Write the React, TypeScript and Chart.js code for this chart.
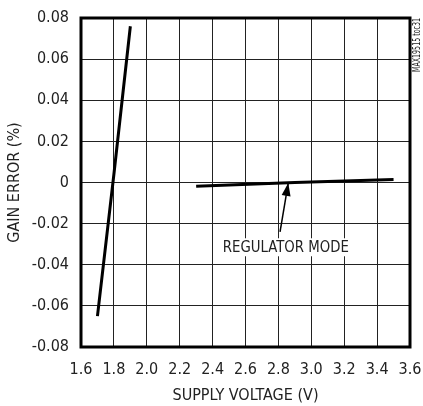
import React, { useEffect, useRef } from "react";
import { Chart, registerables } from "chart.js";

Chart.register(...registerables);

const xTicks = [1.6, 1.8, 2.0, 2.2, 2.4, 2.6, 2.8, 3.0, 3.2, 3.4, 3.6];
const yTicks = [-0.08, -0.06, -0.04, -0.02, 0, 0.02, 0.04, 0.06, 0.08];
const xTickLabels = ["1.6", "1.8", "2.0", "2.2", "2.4", "2.6", "2.8", "3.0", "3.2", "3.4", "3.6"];
const yTickLabels = ["-0.08", "-0.06", "-0.04", "-0.02", "0", "0.02", "0.04", "0.06", "0.08"];

const steepX = [1.7, 1.8, 1.9];
const steepY = [-0.065, 0.004, 0.076];
const regX = [2.3, 2.9, 3.5];
const regY = [-0.0018, 0.0, 0.0014];

const annoText = "REGULATOR MODE";
const annoTextPos = [2.845, -0.0315];
const arrowTail = [2.81, -0.024];
const arrowHead = [2.86, -0.0002];

const FONT = '"Liberation Sans Narrow", "Arial Narrow", "DejaVu Sans Condensed", sans-serif';

function narrowText(ctx: any, text: string, x: number, y: number, targetW: number) {
  const w = ctx.measureText(text).width;
  const s = Math.min(1, targetW / w);
  ctx.save();
  ctx.translate(x, y);
  ctx.scale(s, 1);
  ctx.fillText(text, 0, 0);
  ctx.restore();
}

const framePlugin = {
  id: "frame",
  afterDraw(chart: any) {
    const { ctx, chartArea: a, scales } = chart;
    ctx.save();
    const x = scales.x, y = scales.y;
    ctx.font = `16px ${FONT}`;
    const tx = x.getPixelForValue(annoTextPos[0]);
    const ty = y.getPixelForValue(annoTextPos[1]);
    const w = 126;
    ctx.fillStyle = "#fff";
    ctx.fillRect(tx - w / 2 - 3, ty - 9, w + 6, 18);
    ctx.fillStyle = "#222";
    ctx.textAlign = "center";
    ctx.textBaseline = "middle";
    narrowText(ctx, annoText, tx, ty + 1, w);
    const x1 = x.getPixelForValue(arrowTail[0]);
    const y1 = y.getPixelForValue(arrowTail[1]);
    const x2 = x.getPixelForValue(arrowHead[0]);
    const y2 = y.getPixelForValue(arrowHead[1]);
    ctx.strokeStyle = "#000";
    ctx.lineWidth = 1.5;
    ctx.beginPath();
    ctx.moveTo(x1, y1);
    ctx.lineTo(x2, y2);
    ctx.stroke();
    const ang = Math.atan2(y2 - y1, x2 - x1);
    const L = 13, W = 4.5;
    ctx.fillStyle = "#000";
    ctx.beginPath();
    ctx.moveTo(x2, y2);
    ctx.lineTo(x2 - L * Math.cos(ang) + W * Math.sin(ang), y2 - L * Math.sin(ang) - W * Math.cos(ang));
    ctx.lineTo(x2 - L * Math.cos(ang) - W * Math.sin(ang), y2 - L * Math.sin(ang) + W * Math.cos(ang));
    ctx.closePath();
    ctx.fill();
    ctx.lineWidth = 3;
    ctx.strokeStyle = "#000";
    ctx.strokeRect(a.left, a.top, a.right - a.left, a.bottom - a.top);
    ctx.translate(417, a.top);
    ctx.rotate(-Math.PI / 2);
    ctx.font = `10px ${FONT}`;
    ctx.fillStyle = "#222";
    ctx.textAlign = "right";
    ctx.textBaseline = "middle";
    const sw = ctx.measureText("MAX19515 toc31").width;
    const s = 54 / sw;
    ctx.scale(s, 1);
    ctx.fillText("MAX19515 toc31", 0, 0);
    ctx.restore();
  },
};

export default function App() {
  const ref = useRef<HTMLCanvasElement>(null);
  useEffect(() => {
    const chart = new Chart(ref.current!, {
      type: "line",
      data: {
        datasets: [
          {
            data: steepX.map((v, i) => ({ x: v, y: steepY[i] })),
            borderColor: "#000",
            borderWidth: 3,
            pointRadius: 0,
          },
          {
            data: regX.map((v, i) => ({ x: v, y: regY[i] })),
            borderColor: "#000",
            borderWidth: 3,
            pointRadius: 0,
          },
        ],
      },
      options: {
        animation: false,
        responsive: false,
        layout: { padding: { top: 18, right: 13, left: 0, bottom: 0 } },
        plugins: { legend: { display: false }, tooltip: { enabled: false } },
        scales: {
          x: {
            type: "linear",
            min: 1.6,
            max: 3.6,
            afterBuildTicks: (s: any) => {
              s.ticks = xTicks.map((v) => ({ value: v }));
            },
            afterFit: (s: any) => {
              s.height = 59;
              s.paddingLeft = 0;
              s.paddingRight = 0;
            },
            ticks: {
              callback: (_v: any, i: number) => xTickLabels[i],
              font: { family: FONT, size: 16 },
              color: "#222",
              padding: 13,
              maxRotation: 0,
            },
            grid: { color: "#222", lineWidth: 1, drawTicks: false },
            border: { display: false },
            title: {
              display: true,
              text: "SUPPLY VOLTAGE (V)",
              font: { family: FONT, size: 16 },
              color: "#222",
              padding: { top: 0, bottom: 1 },
            },
          },
          y: {
            type: "linear",
            min: -0.08,
            max: 0.08,
            afterBuildTicks: (s: any) => {
              s.ticks = yTicks.map((v) => ({ value: v }));
            },
            afterFit: (s: any) => {
              s.width = 81;
              s.paddingTop = 0;
              s.paddingBottom = 0;
            },
            ticks: {
              callback: (_v: any, i: number) => yTickLabels[i],
              font: { family: FONT, size: 16 },
              color: "#222",
              padding: 12,
            },
            grid: { color: "#222", lineWidth: 1, drawTicks: false },
            border: { display: false },
            title: {
              display: true,
              text: "GAIN ERROR (%)",
              font: { family: FONT, size: 16 },
              color: "#222",
              padding: { top: 5, bottom: 0 },
            },
          },
        },
      },
      plugins: [framePlugin],
    });
    return () => chart.destroy();
  }, []);
  return (
    <canvas
      ref={ref}
      width={423}
      height={406}
      style={{ position: "absolute", left: 0, top: 0, width: 423, height: 406 }}
    />
  );
}
